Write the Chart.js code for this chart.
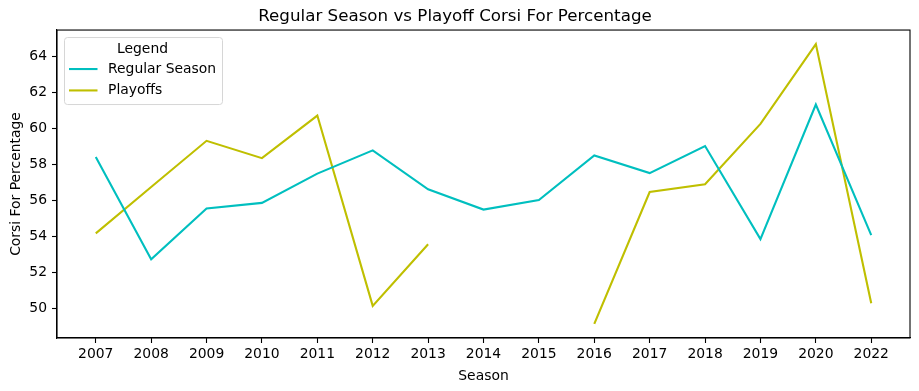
<!DOCTYPE html>
<html>
<head>
<meta charset="utf-8">
<script src="https://cdn.jsdelivr.net/npm/chart.js@4"></script>
<style>
  html, body { margin: 0; padding: 0; background: #fff; }
  #wrap { width: 919px; height: 391px; }
</style>
</head>
<body>
<div id="wrap"><canvas id="myChart" width="919" height="391"></canvas></div>
<script>
// seasons shown on the x axis (no 2021)
const seasons = ["2007", "2008", "2009", "2010", "2011", "2012", "2013", "2014",
                 "2015", "2016", "2017", "2018", "2019", "2020", "2022"];
const regularSeason = [58.40, 52.73, 55.55, 55.86, 57.48, 58.77, 56.61, 55.49,
                       56.02, 58.49, 57.51, 59.01, 53.85, 61.31, 54.07];
const playoffs = [54.17, 56.74, 59.30, 58.34, 60.70, 50.15, 53.57, null,
                  null, 49.15, 56.46, 56.89, 60.24, 64.66, 50.30];
const yTicks = [50, 52, 54, 56, 58, 60, 62, 64];

const FONT = "'DejaVu Sans', sans-serif";
Chart.defaults.font.family = FONT;
Chart.defaults.color = '#000';

function toPoints(arr) {
    return arr.map((v, i) => ({ x: i, y: v }));
}

// frame + legend box drawn like matplotlib
const framePlugin = {
    id: 'frame',
    afterDraw(chart) {
        const c = chart.ctx;
        const a = chart.chartArea;
        c.save();
        c.strokeStyle = '#000';
        c.lineWidth = 1.1;
        c.strokeRect(a.left, a.top, a.right - a.left, a.bottom - a.top);

        // legend
        const x0 = a.left + 7, y0 = a.top + 7, w = 158, h = 67;
        c.fillStyle = 'rgba(255,255,255,0.8)';
        c.strokeStyle = '#d6d6d6';
        c.lineWidth = 1;
        c.beginPath();
        c.roundRect(x0 + 0.5, y0 + 0.5, w, h, 3);
        c.fill();
        c.stroke();

        c.font = '13.9px ' + FONT;
        c.fillStyle = '#000';
        c.textBaseline = 'middle';
        c.textAlign = 'center';
        c.fillText('Legend', x0 + 78.5, y0 + 12);
        c.textAlign = 'left';
        chart.data.datasets.forEach((ds, i) => {
            const y = y0 + 32 + i * 21.4;
            c.strokeStyle = ds.borderColor;
            c.lineWidth = ds.borderWidth;
            c.beginPath();
            c.moveTo(x0 + 5, y);
            c.lineTo(x0 + 33.5, y);
            c.stroke();
            c.fillText(ds.label, x0 + 44, y);
        });
        c.restore();
    }
};

let ctx = document.getElementById("myChart").getContext('2d');

let myChart = new Chart(ctx, {
    type: 'line',
    data: {
        datasets: [{
            label: 'Regular Season',
            data: toPoints(regularSeason),
            borderColor: '#00bfbf',
            backgroundColor: '#00bfbf',
            borderWidth: 2.1,
            pointRadius: 0,
            fill: false
        }, {
            label: 'Playoffs',
            data: toPoints(playoffs),
            borderColor: '#bfbf00',
            backgroundColor: '#bfbf00',
            borderWidth: 2.1,
            pointRadius: 0,
            fill: false,
            spanGaps: false
        }]
    },
    options: {
        responsive: false,
        animation: false,
        layout: { padding: { left: 0, right: 9, top: 0, bottom: 0 } },
        plugins: {
            legend: { display: false },
            tooltip: { enabled: false },
            title: {
                display: true,
                text: 'Regular Season vs Playoff Corsi For Percentage',
                font: { size: 16.7, weight: 'normal', family: FONT },
                color: '#000',
                padding: { top: 7, bottom: 3 }
            }
        },
        scales: {
            x: {
                type: 'linear',
                min: -0.7,
                max: seasons.length - 1 + 0.7,
                afterBuildTicks(scale) {
                    scale.ticks = seasons.map((s, i) => ({ value: i }));
                },
                afterFit(scale) { scale.height = 53; },
                ticks: {
                    font: { size: 13.9 },
                    color: '#000',
                    padding: 3,
                    maxRotation: 0,
                    autoSkip: false,
                    callback: (v) => seasons[v]
                },
                grid: { drawOnChartArea: false, drawTicks: true, tickLength: 5, tickColor: '#000', tickWidth: 1.1 },
                border: { display: true, color: '#000', width: 1.1 },
                title: { display: true, text: 'Season', font: { size: 13.9 }, color: '#000', padding: { top: 0, bottom: 6 } }
            },
            y: {
                min: 48.37,
                max: 65.44,
                afterBuildTicks(scale) {
                    scale.ticks = yTicks.map(v => ({ value: v }));
                },
                afterFit(scale) { scale.width = 57; },
                ticks: { font: { size: 13.9 }, color: '#000', padding: 5 },
                grid: { drawOnChartArea: false, drawTicks: true, tickLength: 5, tickColor: '#000', tickWidth: 1.1 },
                border: { display: true, color: '#000', width: 1.1 },
                title: { display: true, text: 'Corsi For Percentage', font: { size: 13.9 }, color: '#000', padding: { top: 8.5, bottom: 0 } }
            }
        }
    },
    plugins: [framePlugin]
});
</script>
</body>
</html>
